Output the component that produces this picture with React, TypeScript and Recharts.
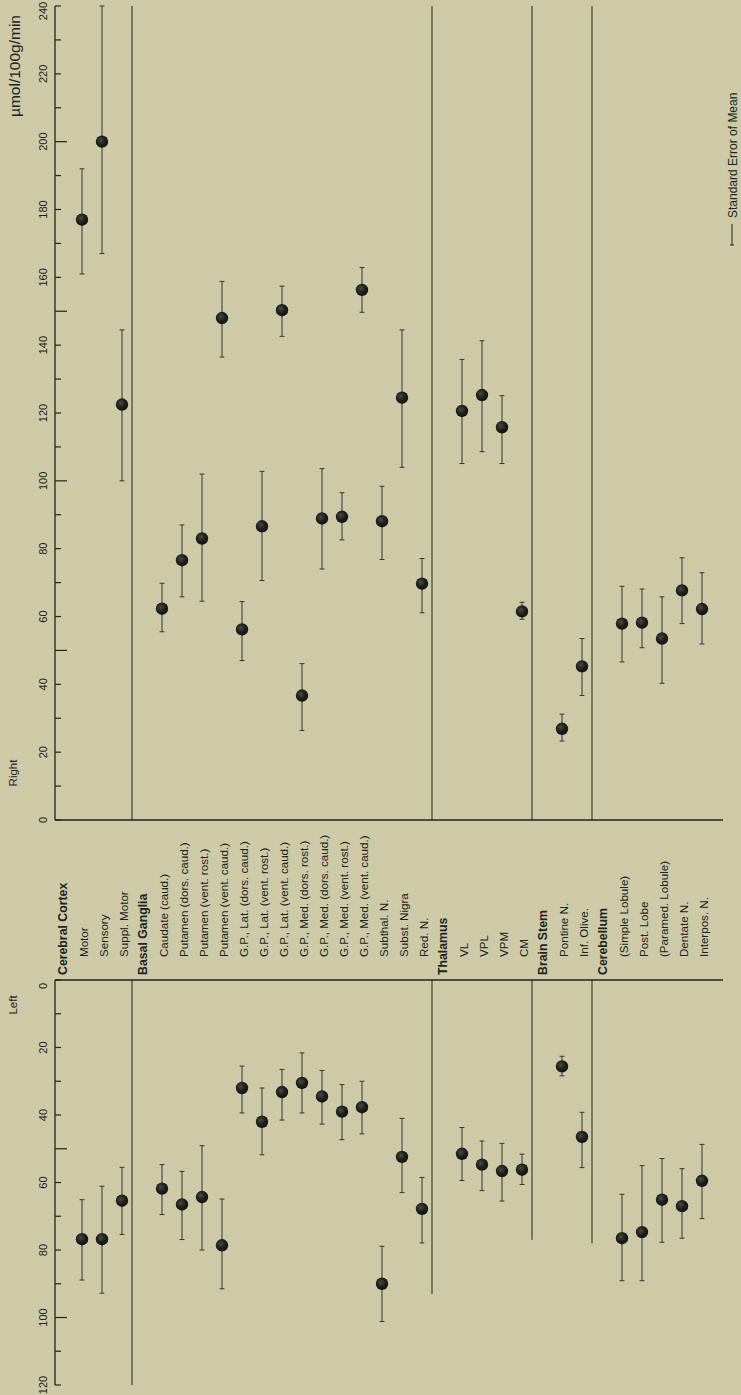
import React from 'react';
import { ComposedChart, Scatter, ErrorBar, XAxis, YAxis, ReferenceLine } from 'recharts';

// ---- categories (group headers have no values) ----
const categories = [
  'Cerebral Cortex', 'Motor', 'Sensory', 'Suppl. Motor',
  'Basal Ganglia', 'Caudate (caud.)', 'Putamen (dors. caud.)', 'Putamen (vent. rost.)', 'Putamen (vent. caud.)',
  'G.P., Lat. (dors. caud.)', 'G.P., Lat. (vent. rost.)', 'G.P., Lat. (vent. caud.)',
  'G.P., Med. (dors. rost.)', 'G.P., Med. (dors. caud.)', 'G.P., Med. (vent. rost.)', 'G.P., Med. (vent. caud.)',
  'Subthal. N.', 'Subst. Nigra', 'Red. N.',
  'Thalamus', 'VL', 'VPL', 'VPM', 'CM',
  'Brain Stem', 'Pontine N.', 'Inf. Olive.',
  'Cerebellum', '(Simple Lobule)', 'Post. Lobe', '(Paramed. Lobule)', 'Dentate N.', 'Interpos. N.',
];
const headerIndices = [0, 4, 19, 24, 27];

// ---- Right hemisphere (µmol/100g/min) ----
const rightValues = [
  null, 177, 200, 122.5,
  null, 62.3, 76.6, 83, 148,
  56.2, 86.6, 150.3,
  36.7, 88.9, 89.4, 156.3,
  88.1, 124.5, 69.7,
  null, 120.6, 125.3, 115.8, 61.5,
  null, 26.9, 45.3,
  null, 57.9, 58.2, 53.5, 67.7, 62.2,
];
const rightErrLow = [
  0, 16, 33, 22.5,
  0, 6.8, 10.8, 18.5, 11.5,
  9.2, 16, 7.7,
  10.3, 14.9, 6.8, 6.6,
  11.3, 20.5, 8.6,
  0, 15.5, 16.7, 10.7, 2.3,
  0, 3.6, 8.6,
  0, 11.3, 7.4, 13.2, 9.8, 10.3,
];
const rightErrHigh = [
  0, 15, 40, 22,
  0, 7.5, 10.4, 19, 10.8,
  8.2, 16.2, 7.1,
  9.4, 14.7, 7.1, 6.6,
  10.3, 20, 7.4,
  0, 15.2, 16, 9.3, 2.7,
  0, 4.3, 8.2,
  0, 11, 9.9, 12.3, 9.6, 10.7,
];

// ---- Left hemisphere ----
const leftValues = [
  null, 76.8, 76.8, 65.4,
  null, 61.8, 66.5, 64.3, 78.6,
  32, 42, 33.2,
  30.5, 34.5, 39, 37.7,
  90, 52.4, 67.8,
  null, 51.5, 54.7, 56.6, 56.2,
  null, 25.6, 46.5,
  null, 76.5, 74.7, 65.1, 67, 59.5,
];
const leftErrLow = [
  0, 11.7, 15.7, 9.9,
  0, 7.1, 9.8, 15.2, 13.7,
  6.5, 10, 6.7,
  8.9, 7.7, 8, 7.7,
  11.1, 11.4, 9.3,
  0, 7.8, 7, 8.2, 4.6,
  0, 3, 7.3,
  0, 13, 19.7, 12.2, 11.1, 10.8,
];
const leftErrHigh = [
  0, 12.1, 16, 10,
  0, 7.7, 10.4, 15.7, 12.9,
  7.4, 9.8, 8.3,
  8.9, 8.2, 8.3, 7.9,
  11.2, 10.6, 10.1,
  0, 7.9, 7.7, 8.9, 4.4,
  0, 2.8, 9.1,
  0, 12.6, 14.4, 12.6, 9.5, 11.2,
];

const rightTicks = [0, 10, 20, 30, 40, 50, 60, 70, 80, 90, 100, 110, 120, 130, 140, 150, 160, 170, 180, 190, 200, 210, 220, 230, 240];
const leftTicks = [0, 10, 20, 30, 40, 50, 60, 70, 80, 90, 100, 110, 120];
const leftSeparatorEnds = [120, 93, 77, 78];

const INK = '#222220';
const BAR = '#34342f';
const BG = '#cdcaa7';
const FONT = '"Liberation Sans", Arial, Helvetica, sans-serif';

const catTicks = categories.map((_, i) => i);
const separators = headerIndices.slice(1).map((i) => i - 0.5);

const buildData = (vals: (number | null)[], lo: number[], hi: number[]) =>
  vals
    .map((v, i) => (v == null ? null : { x: i, y: v, err: [lo[i], hi[i]] }))
    .filter((d) => d !== null);

const rightData = buildData(rightValues, rightErrLow, rightErrHigh);
const leftData = buildData(leftValues, leftErrLow, leftErrHigh);

const CatTick = (props: any) => {
  const { x, y, payload } = props;
  const i = payload.value;
  const isHeader = headerIndices.includes(i);
  const tx = x + 1;
  const ty = y + (isHeader ? 155 : 137);
  return (
    <text
      x={tx}
      y={ty}
      transform={`rotate(-90 ${tx} ${ty})`}
      textAnchor="start"
      dominantBaseline="central"
      fontFamily={FONT}
      fontSize={isHeader ? 12.3 : 11.6}
      fontWeight={isHeader ? 700 : 400}
      fill={INK}
    >
      {categories[i]}
    </text>
  );
};

const ValTick = (props: any) => {
  const { x, y, payload } = props;
  const v = payload.value;
  const long = v % 50 === 0 && v !== 0;
  const lx = x - 12;
  const ly = Math.max(y, 11);
  return (
    <g>
      <line x1={x} x2={x + (long ? 12 : 6)} y1={y} y2={y} stroke={INK} strokeWidth={1.2} />
      {v % 20 === 0 && (
        <text
          x={lx}
          y={ly}
          transform={`rotate(-90 ${lx} ${ly})`}
          textAnchor="middle"
          dominantBaseline="central"
          fontFamily={FONT}
          fontSize={11}
          fill={INK}
        >
          {v}
        </text>
      )}
    </g>
  );
};

const Ball = (props: any) => {
  const { cx, cy } = props;
  if (cx == null || cy == null) return null;
  return <circle cx={cx} cy={cy} r={6.2} fill="url(#ballGrad)" />;
};

const Defs = () => (
  <defs>
    <radialGradient id="ballGrad" cx="40%" cy="38%" r="65%">
      <stop offset="0%" stopColor="#4a4a44" />
      <stop offset="55%" stopColor="#1e1e1b" />
      <stop offset="100%" stopColor="#121211" />
    </radialGradient>
  </defs>
);

const XDOMAIN: [number, number] = [-0.35, 33.05];

export default function App() {
  return (
    <div style={{ position: 'absolute', left: 0, top: 0, width: 741, height: 1395, background: BG, overflow: 'hidden' }}>
      {/* Right hemisphere panel + category labels */}
      <div style={{ position: 'absolute', left: 0, top: 0 }}>
        <ComposedChart width={741} height={980} margin={{ top: 6, right: 18, bottom: 0, left: 10 }} data={rightData}>
          <Defs />
          <XAxis
            type="number"
            dataKey="x"
            domain={XDOMAIN}
            ticks={catTicks}
            interval={0}
            height={160}
            tickSize={0}
            tickMargin={0}
            tickLine={false}
            axisLine={{ stroke: INK, strokeWidth: 1.3 }}
            tick={<CatTick />}
            allowDataOverflow
          />
          <YAxis
            type="number"
            dataKey="y"
            domain={[0, 240]}
            ticks={rightTicks}
            interval={0}
            width={45}
            tickSize={0}
            tickMargin={0}
            tickLine={false}
            axisLine={{ stroke: INK, strokeWidth: 1.3 }}
            tick={<ValTick />}
            allowDataOverflow
          />
          {separators.map((s) => (
            <ReferenceLine
              key={`rs${s}`}
              segment={[{ x: s, y: 0 }, { x: s, y: 240 }]}
              stroke={INK}
              strokeWidth={1}
              ifOverflow="visible"
            />
          ))}
          <Scatter data={rightData} dataKey="y" isAnimationActive={false} shape={<Ball />}>
            <ErrorBar dataKey="err" direction="y" width={2.5} stroke={BAR} strokeWidth={1} isAnimationActive={false} />
          </Scatter>
        </ComposedChart>
      </div>

      {/* Left hemisphere panel (inverted) */}
      <div style={{ position: 'absolute', left: 0, top: 975 }}>
        <ComposedChart width={741} height={420} margin={{ top: 4, right: 18, bottom: 10, left: 10 }} data={leftData}>
          <Defs />
          <XAxis
            type="number"
            dataKey="x"
            orientation="top"
            domain={XDOMAIN}
            ticks={catTicks}
            height={1}
            tick={false}
            tickLine={false}
            axisLine={{ stroke: INK, strokeWidth: 1.3 }}
            allowDataOverflow
          />
          <YAxis
            type="number"
            dataKey="y"
            domain={[0, 120]}
            reversed
            ticks={leftTicks}
            interval={0}
            width={45}
            tickSize={0}
            tickMargin={0}
            tickLine={false}
            axisLine={{ stroke: INK, strokeWidth: 1.3 }}
            tick={<ValTick />}
            allowDataOverflow
          />
          {separators.map((s, k) => (
            <ReferenceLine
              key={`ls${s}`}
              segment={[{ x: s, y: 0 }, { x: s, y: leftSeparatorEnds[k] }]}
              stroke={INK}
              strokeWidth={1}
              ifOverflow="visible"
            />
          ))}
          <Scatter data={leftData} dataKey="y" isAnimationActive={false} shape={<Ball />}>
            <ErrorBar dataKey="err" direction="y" width={2.5} stroke={BAR} strokeWidth={1} isAnimationActive={false} />
          </Scatter>
        </ComposedChart>
      </div>

      {/* Titles and legend */}
      <svg width={741} height={1395} style={{ position: 'absolute', left: 0, top: 0, pointerEvents: 'none' }}>
        <text x={14} y={117} transform="rotate(-90 14 117)" textAnchor="start" dominantBaseline="central"
          fontFamily={FONT} fontSize={15.5} fill={INK}>µmol/100g/min</text>
        <text x={13} y={773} transform="rotate(-90 13 773)" textAnchor="middle" dominantBaseline="central"
          fontFamily={FONT} fontSize={11.5} fill={INK}>Right</text>
        <text x={13} y={1005} transform="rotate(-90 13 1005)" textAnchor="middle" dominantBaseline="central"
          fontFamily={FONT} fontSize={11.5} fill={INK}>Left</text>
        <g stroke={INK} strokeWidth={1}>
          <line x1={732} x2={732} y1={224} y2={245} />
          <line x1={730} x2={734} y1={245} y2={245} />
        </g>
        <text x={733} y={218} transform="rotate(-90 733 218)" textAnchor="start" dominantBaseline="central"
          fontFamily={FONT} fontSize={12} fill={INK}>Standard Error of Mean</text>
      </svg>
    </div>
  );
}
